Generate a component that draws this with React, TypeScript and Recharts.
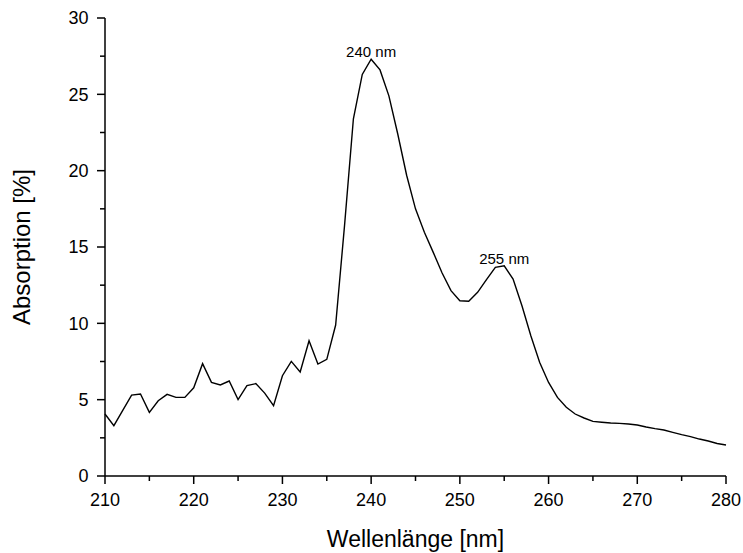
import React from "react";
import { LineChart, Line, XAxis, YAxis, ReferenceDot, Label } from "recharts";

const wavelengths: number[] = [
  210, 211, 212, 213, 214, 215, 216, 217, 218, 219,
  220, 221, 222, 223, 224, 225, 226, 227, 228, 229,
  230, 231, 232, 233, 234, 235, 236, 237, 238, 239,
  240, 241, 242, 243, 244, 245, 246, 247, 248, 249,
  250, 251, 252, 253, 254, 255, 256, 257, 258, 259,
  260, 261, 262, 263, 264, 265, 266, 267, 268, 269,
  270, 271, 272, 273, 274, 275, 276, 277, 278, 279, 280,
];

const absorption: number[] = [
  4.06, 3.3, 4.3, 5.3, 5.37, 4.17, 4.93, 5.35, 5.15, 5.15,
  5.78, 7.36, 6.13, 5.96, 6.22, 5.0, 5.92, 6.05, 5.43, 4.6,
  6.57, 7.51, 6.81, 8.86, 7.33, 7.64, 9.89, 16.4, 23.4, 26.3,
  27.3, 26.6, 24.9, 22.4, 19.7, 17.5, 15.96, 14.65, 13.3, 12.14,
  11.48, 11.45, 12.03, 12.86, 13.67, 13.77, 12.9, 11.15, 9.19, 7.44,
  6.13, 5.15, 4.5, 4.06, 3.8, 3.58, 3.52, 3.47, 3.45, 3.41,
  3.34, 3.21, 3.1, 3.01, 2.86, 2.71, 2.58, 2.42, 2.29, 2.13, 2.03,
];

const xMajorTicks: number[] = [210, 220, 230, 240, 250, 260, 270, 280];
const xMinorTicks: number[] = [215, 225, 235, 245, 255, 265, 275];
const yMajorTicks: number[] = [0, 5, 10, 15, 20, 25, 30];
const yMinorTicks: number[] = [2.5, 7.5, 12.5, 17.5, 22.5, 27.5];

const peakLabels: { x: number; y: number; text: string }[] = [
  { x: 240, y: 27.3, text: "240 nm" },
  { x: 255, y: 13.77, text: "255 nm" },
];

const data = wavelengths.map((w, i) => ({ w, a: absorption[i] }));
const xAllTicks = [...xMajorTicks, ...xMinorTicks].sort((a, b) => a - b);
const yAllTicks = [...yMajorTicks, ...yMinorTicks].sort((a, b) => a - b);

const FONT = "Liberation Sans, Arial, sans-serif";
const TICK_FONT = 18;
const MAJOR = 8;
const MINOR = 5;

function XTick(props: any) {
  const { x, y, payload } = props;
  const v = payload.value;
  const isMajor = xMajorTicks.includes(v);
  return (
    <g>
      <line x1={x} y1={y} x2={x} y2={y + (isMajor ? MAJOR : MINOR)} stroke="#000" strokeWidth={1.5} />
      {isMajor && (
        <text x={x} y={y + 17.5} dy="0.71em" textAnchor="middle" fill="#000" fontSize={TICK_FONT} fontFamily={FONT}>
          {v}
        </text>
      )}
    </g>
  );
}

function YTick(props: any) {
  const { x, y, payload } = props;
  const v = payload.value;
  const isMajor = yMajorTicks.includes(v);
  return (
    <g>
      <line x1={x} y1={y} x2={x - (isMajor ? MAJOR : MINOR)} y2={y} stroke="#000" strokeWidth={1.5} />
      {isMajor && (
        <text x={x - 16.5} y={y} dy="0.355em" textAnchor="end" fill="#000" fontSize={TICK_FONT} fontFamily={FONT}>
          {v}
        </text>
      )}
    </g>
  );
}

export default function App() {
  return (
    <div style={{ position: "absolute", left: 0, top: 0 }}>
      <LineChart
        width={743}
        height={553}
        data={data}
        margin={{ top: 18, right: 17, bottom: 0, left: 0 }}
        style={{ fontFamily: FONT }}
      >
        <XAxis
          dataKey="w"
          type="number"
          domain={[210, 280]}
          ticks={xAllTicks}
          interval={0}
          height={77}
          tickSize={0}
          tickMargin={0}
          tickLine={false}
          axisLine={{ stroke: "#000", strokeWidth: 1.5 }}
          tick={<XTick />}
        >
          <Label
            value="Wellenlänge [nm]"
            position="insideBottom"
            offset={6}
            style={{ fill: "#000", fontSize: 23, fontFamily: FONT }}
          />
        </XAxis>
        <YAxis
          type="number"
          domain={[0, 30]}
          ticks={yAllTicks}
          interval={0}
          width={105}
          tickSize={0}
          tickMargin={0}
          tickLine={false}
          axisLine={{ stroke: "#000", strokeWidth: 1.5 }}
          tick={<YTick />}
        >
          <Label
            value="Absorption [%]"
            angle={-90}
            position="insideLeft"
            offset={21}
            style={{ fill: "#000", fontSize: 24, fontFamily: FONT, textAnchor: "middle" }}
          />
        </YAxis>
        <Line
          type="linear"
          dataKey="a"
          stroke="#000"
          strokeWidth={1.4}
          dot={false}
          isAnimationActive={false}
        />
        {peakLabels.map((p) => (
          <ReferenceDot key={p.text} x={p.x} y={p.y} r={0} fill="none" stroke="none">
            <Label
              value={p.text}
              position="top"
              offset={2}
              style={{ fill: "#000", fontSize: 15, fontFamily: FONT }}
            />
          </ReferenceDot>
        ))}
      </LineChart>
    </div>
  );
}
